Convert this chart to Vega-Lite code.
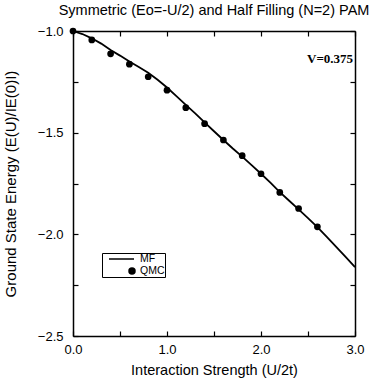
{
  "$schema": "https://vega.github.io/schema/vega-lite/v6.json",
  "autosize": {"type": "none"},
  "width": 282,
  "height": 305,
  "padding": {"left": 73, "top": 31, "right": 18, "bottom": 46},
  "background": "white",
  "title": {
    "text": "Symmetric (Eo=-U/2) and Half Filling (N=2) PAM",
    "font": "Liberation Sans",
    "fontSize": 14.5,
    "fontWeight": "normal",
    "color": "black",
    "anchor": "middle",
    "offset": 7
  },
  "data": {
    "values": [
      {"series": "MF", "u": 0.0, "e": -1.0},
      {"series": "MF", "u": 0.1, "e": -1.015},
      {"series": "MF", "u": 0.2, "e": -1.036},
      {"series": "MF", "u": 0.3, "e": -1.062},
      {"series": "MF", "u": 0.4, "e": -1.094},
      {"series": "MF", "u": 0.5, "e": -1.121},
      {"series": "MF", "u": 0.6, "e": -1.150},
      {"series": "MF", "u": 0.7, "e": -1.177},
      {"series": "MF", "u": 0.8, "e": -1.205},
      {"series": "MF", "u": 0.9, "e": -1.240},
      {"series": "MF", "u": 1.0, "e": -1.278},
      {"series": "MF", "u": 1.1, "e": -1.320},
      {"series": "MF", "u": 1.2, "e": -1.363},
      {"series": "MF", "u": 1.3, "e": -1.405},
      {"series": "MF", "u": 1.4, "e": -1.449},
      {"series": "MF", "u": 1.5, "e": -1.493},
      {"series": "MF", "u": 1.6, "e": -1.536},
      {"series": "MF", "u": 1.7, "e": -1.578},
      {"series": "MF", "u": 1.8, "e": -1.618},
      {"series": "MF", "u": 1.9, "e": -1.660},
      {"series": "MF", "u": 2.0, "e": -1.702},
      {"series": "MF", "u": 2.1, "e": -1.746},
      {"series": "MF", "u": 2.2, "e": -1.792},
      {"series": "MF", "u": 2.3, "e": -1.835},
      {"series": "MF", "u": 2.4, "e": -1.877},
      {"series": "MF", "u": 2.5, "e": -1.920},
      {"series": "MF", "u": 2.6, "e": -1.965},
      {"series": "MF", "u": 2.7, "e": -2.013},
      {"series": "MF", "u": 2.8, "e": -2.062},
      {"series": "MF", "u": 2.9, "e": -2.111},
      {"series": "MF", "u": 3.0, "e": -2.161},
      {"series": "QMC", "u": 0.0, "e": -1.0},
      {"series": "QMC", "u": 0.2, "e": -1.044},
      {"series": "QMC", "u": 0.4, "e": -1.112},
      {"series": "QMC", "u": 0.6, "e": -1.163},
      {"series": "QMC", "u": 0.8, "e": -1.225},
      {"series": "QMC", "u": 1.0, "e": -1.291},
      {"series": "QMC", "u": 1.2, "e": -1.377},
      {"series": "QMC", "u": 1.4, "e": -1.456},
      {"series": "QMC", "u": 1.6, "e": -1.536},
      {"series": "QMC", "u": 1.8, "e": -1.613},
      {"series": "QMC", "u": 2.0, "e": -1.702},
      {"series": "QMC", "u": 2.2, "e": -1.794},
      {"series": "QMC", "u": 2.4, "e": -1.873},
      {"series": "QMC", "u": 2.6, "e": -1.963}
    ]
  },
  "layer": [
    {
      "transform": [{"filter": "datum.series === 'MF'"}],
      "mark": {"type": "line", "color": "black", "strokeWidth": 1.8},
      "encoding": {
        "x": {
          "field": "u", "type": "quantitative",
          "scale": {"domain": [0, 3], "nice": false, "zero": false},
          "axis": {
            "orient": "bottom",
            "title": "Interaction Strength (U/2t)",
            "values": [0, 0.5, 1, 1.5, 2, 2.5, 3],
            "format": ".1f",
            "labelExpr": "datum.value % 1 === 0 ? datum.label : ''",
            "tickSize": -5,
            "labelPadding": 12,
            "labelFlush": false,
            "titlePadding": 7,
            "titleFontSize": 14.5
          }
        },
        "y": {
          "field": "e", "type": "quantitative",
          "scale": {"domain": [-2.5, -1], "nice": false, "zero": false},
          "axis": {
            "orient": "left",
            "title": "Ground State Energy (E(U)/IE(0)I)",
            "values": [-1, -1.25, -1.5, -1.75, -2, -2.25, -2.5],
            "format": ".1f",
            "labelExpr": "(datum.value * 2) % 1 === 0 ? datum.label : ''",
            "tickSize": -5,
            "labelPadding": 15,
            "labelFlush": false,
            "titlePadding": 19,
            "titleFontSize": 15
          }
        }
      }
    },
    {
      "transform": [{"filter": "datum.series === 'QMC'"}],
      "mark": {"type": "point", "filled": true, "color": "black", "size": 45, "opacity": 1, "strokeWidth": 0},
      "encoding": {
        "x": {
          "field": "u", "type": "quantitative",
          "axis": {
            "orient": "top", "title": null, "labels": false,
            "values": [0, 0.5, 1, 1.5, 2, 2.5, 3], "tickSize": -5
          }
        },
        "y": {
          "field": "e", "type": "quantitative",
          "axis": {
            "orient": "right", "title": null, "labels": false,
            "values": [-1, -1.25, -1.5, -1.75, -2, -2.25, -2.5], "tickSize": -5
          }
        }
      }
    },
    {
      "mark": {"type": "point", "filled": false, "color": "black", "opacity": 0},
      "encoding": {
        "x": {"field": "u", "type": "quantitative", "axis": null},
        "y": {"field": "e", "type": "quantitative", "axis": null},
        "shape": {
          "field": "series", "type": "nominal",
          "scale": {
            "domain": ["MF", "QMC"],
            "range": [
              "M0.2,0H5.2",
              "M4.2,0A0.6,0.6,0,1,0,5.4,0A0.6,0.6,0,1,0,4.2,0ZM4.45,0A0.35,0.35,0,1,0,5.15,0A0.35,0.35,0,1,0,4.45,0ZM4.68,0A0.12,0.12,0,1,0,4.92,0A0.12,0.12,0,1,0,4.68,0Z"
            ]
          },
          "legend": {
            "title": null,
            "orient": "none",
            "legendX": 29,
            "legendY": 222,
            "strokeColor": "black",
            "padding": 0,
            "symbolSize": 100,
            "symbolStrokeColor": "black",
            "symbolFillColor": "black",
            "symbolStrokeWidth": 1.5,
            "symbolOpacity": 1,
            "labelOffset": 26,
            "labelFont": "Liberation Sans",
            "labelFontSize": 10.5,
            "labelColor": "black",
            "rowPadding": 0
          }
        }
      }
    },
    {
      "data": {"values": [{"u": 2.98, "e": -1.138, "label": "V=0.375"}]},
      "mark": {"type": "text", "align": "right", "baseline": "middle", "font": "Liberation Serif", "fontWeight": "bold", "fontSize": 13, "color": "black"},
      "encoding": {
        "x": {"field": "u", "type": "quantitative", "axis": null},
        "y": {"field": "e", "type": "quantitative", "axis": null},
        "text": {"field": "label"}
      }
    }
  ],
  "resolve": {"axis": {"x": "independent", "y": "independent"}},
  "config": {
    "view": {"stroke": null},
    "axis": {
      "grid": false,
      "domainColor": "black",
      "domainWidth": 1.5,
      "tickColor": "black",
      "tickWidth": 1.2,
      "labelFont": "Liberation Sans",
      "labelFontSize": 13,
      "labelColor": "black",
      "titleFont": "Liberation Sans",
      "titleFontWeight": "normal",
      "titleColor": "black"
    }
  }
}
